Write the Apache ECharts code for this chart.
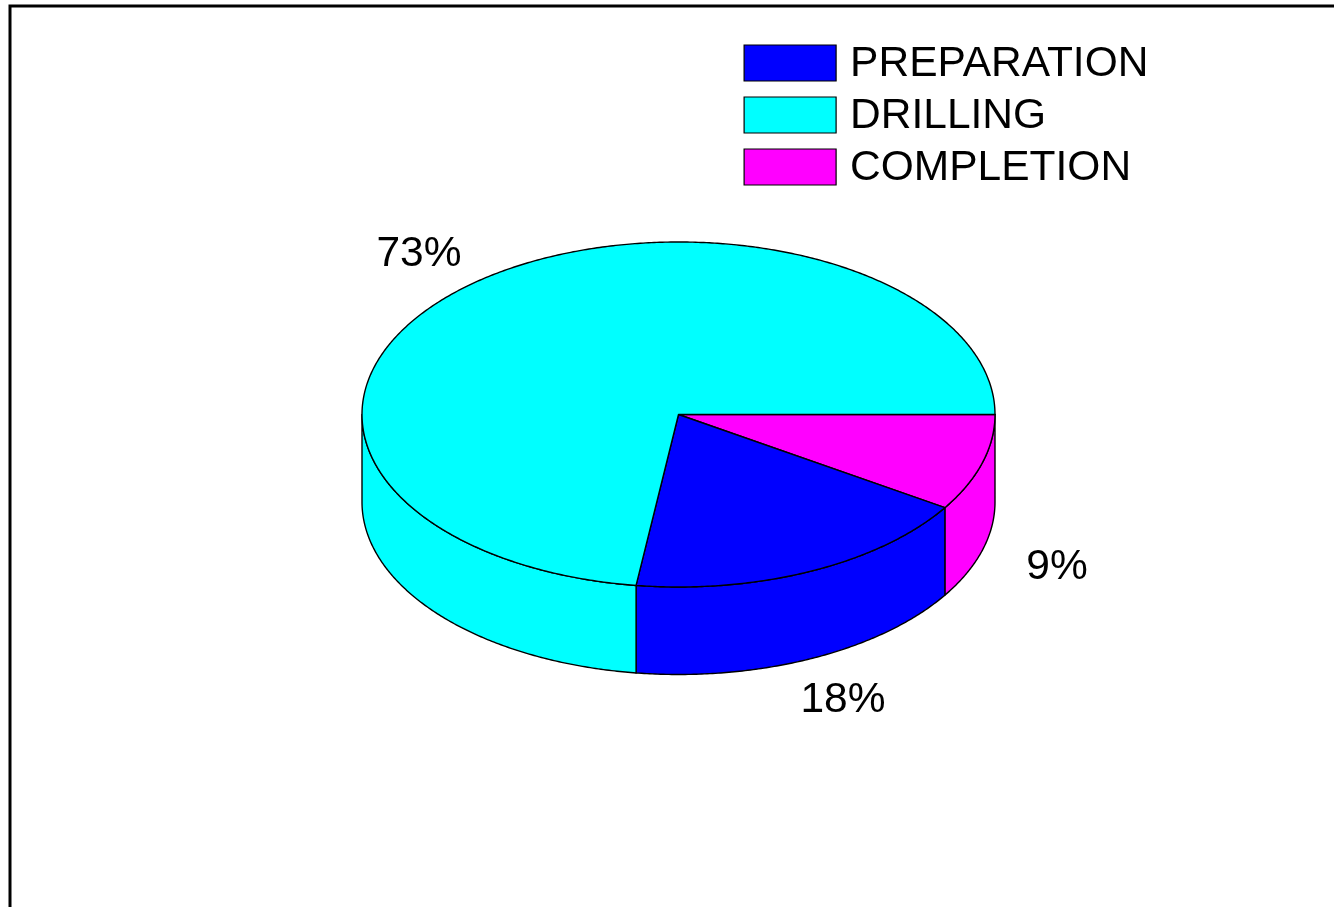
<!DOCTYPE html>
<html>
<head>
<meta charset="utf-8">
<style>html,body{margin:0;padding:0;background:#fff;overflow:hidden}#c{width:1334px;height:907px}</style>
<script src="https://cdn.jsdelivr.net/npm/echarts@6/dist/echarts.min.js"></script>
</head>
<body>
<div id="c"></div>
<script>
const categories = ['PREPARATION', 'DRILLING', 'COMPLETION'];
const shares = [18.06, 72.86, 9.08];
const sliceColors = ['#0000ff', '#00ffff', '#ff00ff'];
const drawOrder = [2, 0, 1];   // slices run clockwise from 3 o'clock
const labelSpots = [[843, 700], [419, 254], [1057, 567]];

const CX = 678.5, CY = 414.5, RX = 316.5, RY = 172.5, DEPTH = 87.5;
const total = shares.reduce((a, b) => a + b, 0);
const FONT_FAMILY = '"Liberation Sans", Arial, sans-serif';

function pt(deg, dy) {
  const r = deg * Math.PI / 180;
  return [CX + RX * Math.cos(r), CY + RY * Math.sin(r) + (dy || 0)];
}
function arc(a0, a1, dy) {
  const pts = [];
  const n = Math.max(2, Math.ceil(Math.abs(a1 - a0) * 2));
  for (let i = 0; i <= n; i++) pts.push(pt(a0 + (a1 - a0) * i / n, dy));
  return pts;
}
function startAngle(idx) {
  let sum = 0;
  for (const k of drawOrder) {
    if (k === idx) break;
    sum += shares[k];
  }
  return sum / total * 360;
}
const lineStyle = { stroke: '#000', lineWidth: 1.4, lineJoin: 'round' };

function renderSlice(idx) {
  return function (params, api) {
    const a0 = startAngle(idx);
    const a1 = a0 + api.value(0) / total * 360;
    const color = sliceColors[idx];
    const children = [];
    // front wall: only the part of the rim facing the viewer
    const w0 = a0, w1 = Math.min(a1, 180);
    if (w0 < 180) {
      const top = arc(w0, w1, 0), bottom = arc(w1, w0, DEPTH);
      children.push({
        type: 'polygon',
        shape: { points: top.concat(bottom) },
        style: Object.assign({ fill: color }, lineStyle)
      });
    }
    // top face
    children.push({
      type: 'polygon',
      shape: { points: [[CX, CY]].concat(arc(a0, a1, 0)) },
      style: Object.assign({ fill: color }, lineStyle),
      z2: 2
    });
    // percentage label
    children.push({
      type: 'text',
      z2: 3,
      style: {
        x: labelSpots[idx][0], y: labelSpots[idx][1],
        text: Math.round(api.value(0)) + '%',
        fill: '#000',
        font: '42.5px ' + FONT_FAMILY,
        align: 'center', verticalAlign: 'middle'
      }
    });
    return { type: 'group', children };
  };
}

const chart = echarts.init(document.getElementById('c'), null, { renderer: 'canvas' });
chart.setOption({
  animation: false,
  backgroundColor: '#fff',
  legend: {
    show: true,
    orient: 'vertical',
    left: 743.5, top: 43,
    padding: 0,
    itemWidth: 92, itemHeight: 36, itemGap: 9,
    icon: 'rect',
    selectedMode: false,
    data: categories,
    formatter: name => '{t|' + name + '}',
    textStyle: {
      color: '#000', fontSize: 42.5, fontFamily: FONT_FAMILY, padding: [0, 0, 0, 9],
      rich: { t: { color: '#000', fontSize: 42.5, fontFamily: FONT_FAMILY, padding: [3, 0, 0, 0] } }
    },
    itemStyle: { borderColor: '#000', borderWidth: 1.2 }
  },
  graphic: [{
    type: 'polyline',
    silent: true,
    shape: { points: [[10, 907], [10, 6], [1334, 6]] },
    style: { stroke: '#000', lineWidth: 3, fill: null }
  }],
  series: drawOrder.map((idx, order) => ({
    type: 'custom',
    name: categories[idx],
    coordinateSystem: 'none',
    silent: true,
    z: 2 + order,
    itemStyle: { color: sliceColors[idx] },
    data: [[shares[idx]]],
    renderItem: renderSlice(idx)
  }))
});
</script>
</body>
</html>
